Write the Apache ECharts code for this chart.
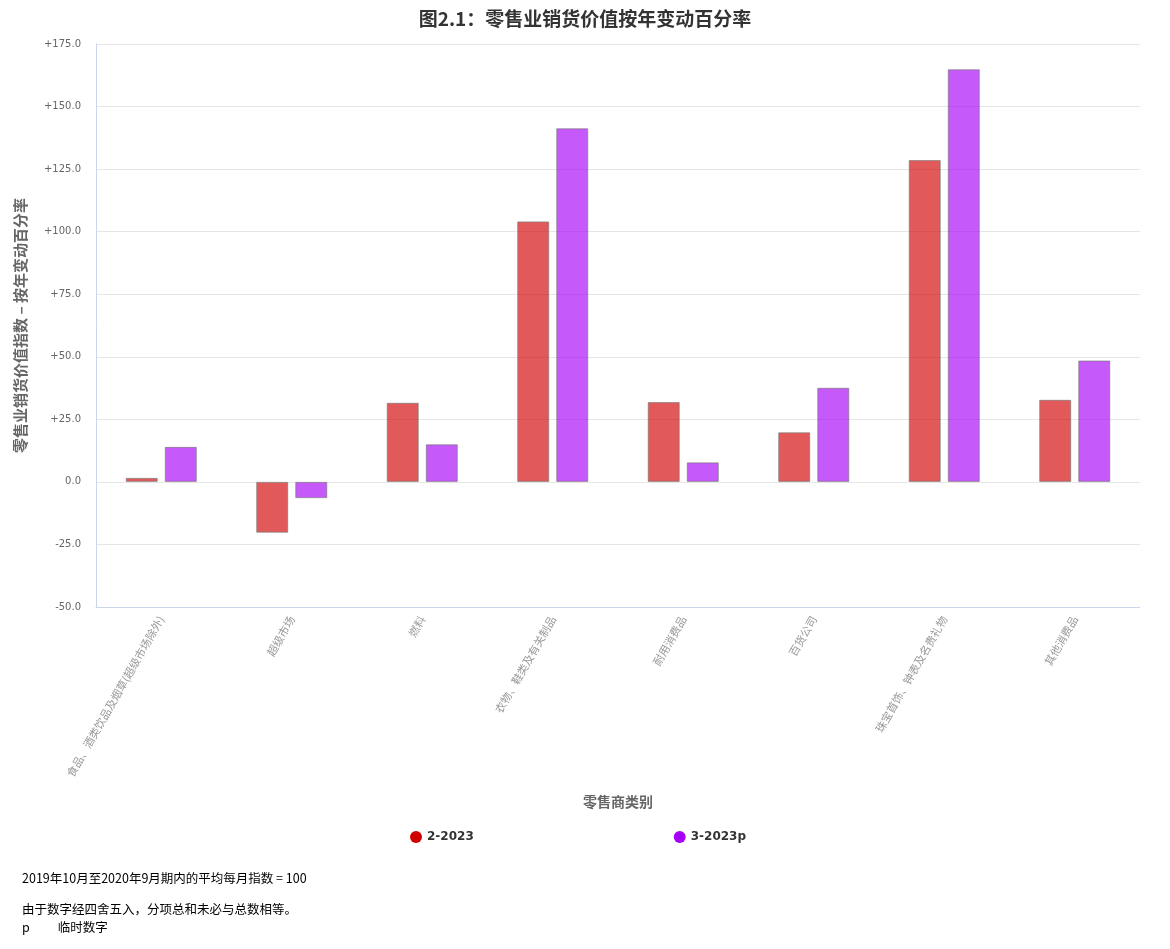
<!DOCTYPE html>
<html>
<head>
<meta charset="utf-8">
<script src="https://cdn.jsdelivr.net/npm/echarts@6/dist/echarts.min.js"></script>
<style>
  html, body { margin: 0; padding: 0; background: #fff; }
  #container { width: 1170px; height: 949px; }
</style>
</head>
<body>
<div id="container"></div>
<script type="text/javascript">
    // 零售商类别
    var categories = [
        '食品、酒类饮品及烟草(超级市场除外)',
        '超级市场',
        '燃料',
        '衣物、鞋类及有关制品',
        '耐用消费品',
        '百货公司',
        '珠宝首饰、钟表及名贵礼物',
        '其他消费品'
    ];
    var seriesNames = ['2-2023', '3-2023p'];
    var values2023Feb = [1.6, -20.3, 31.6, 104.1, 31.9, 19.8, 128.6, 32.8];
    var values2023Mar = [14.0, -6.5, 15.0, 141.3, 7.8, 37.6, 164.9, 48.5];
    var notes = [
        '2019年10月至2020年9月期内的平均每月指数 = 100',
        '由于数字经四舍五入，分项总和未必与总数相等。',
        'p          临时数字'
    ];

    var cjk = '"Noto Sans CJK SC", "DejaVu Sans", sans-serif';
    var myChart = echarts.init(document.getElementById('container'));

    function barSeries(name, data, color) {
        return {
            name: name,
            type: 'bar',
            data: data,
            barWidth: 32,
            barGap: '22%',
            itemStyle: {
                color: color,
                opacity: 0.65,
                borderColor: '#777',
                borderWidth: 1
            }
        };
    }

    var option = {
        animation: false,
        title: {
            text: '图2.1：零售业销货价值按年变动百分率',
            left: 'center',
            top: 4,
            textStyle: { fontFamily: cjk, fontSize: 19, fontWeight: 'bold', color: '#333' }
        },
        legend: {
            top: 826,
            left: 405,
            itemGap: 200,
            icon: 'circle',
            itemWidth: 12,
            itemHeight: 12,
            itemStyle: { opacity: 1, borderWidth: 0 },
            textStyle: { fontFamily: '"DejaVu Sans", sans-serif', fontSize: 12, fontWeight: 'bold', color: '#333' },
            data: seriesNames
        },
        grid: { left: 96, right: 30, top: 44, bottom: 342 },
        xAxis: {
            type: 'category',
            data: categories,
            name: '零售商类别',
            nameLocation: 'middle',
            nameGap: 188,
            nameTextStyle: { fontFamily: cjk, fontSize: 14, fontWeight: 'bold', color: '#666' },
            axisLine: { onZero: false, lineStyle: { color: '#ccd6eb' } },
            axisTick: { show: false },
            axisLabel: {
                rotate: 60,
                interval: 0,
                fontFamily: cjk,
                fontSize: 11,
                color: '#999',
                margin: 10
            }
        },
        yAxis: {
            type: 'value',
            min: -50,
            max: 175,
            interval: 25,
            name: '零售业销货价值指数 – 按年变动百分率',
            nameLocation: 'middle',
            nameGap: 68,
            nameTextStyle: { fontFamily: cjk, fontSize: 15, fontWeight: 'bold', color: '#666' },
            axisLine: { show: true, lineStyle: { color: '#ccd6eb' } },
            splitLine: { lineStyle: { color: '#e6e6e6' } },
            axisLabel: {
                fontFamily: '"DejaVu Sans", sans-serif',
                fontSize: 10,
                color: '#666',
                margin: 15,
                formatter: function (v) {
                    var s = v.toFixed(1);
                    return v > 0 ? '+' + s : s;
                }
            }
        },
        graphic: [
            { type: 'text', left: 22, top: 872, style: { text: notes[0], font: '12.5px ' + cjk, fill: '#000' } },
            { type: 'text', left: 22, top: 903, style: { text: notes[1], font: '12.5px ' + cjk, fill: '#000' } },
            { type: 'text', left: 22, top: 921, style: { text: notes[2], font: '12.5px ' + cjk, fill: '#000' } }
        ],
        series: [
            barSeries(seriesNames[0], values2023Feb, '#d10000'),
            barSeries(seriesNames[1], values2023Mar, '#a600f6')
        ]
    };
    myChart.setOption(option);
</script>
</body>
</html>
